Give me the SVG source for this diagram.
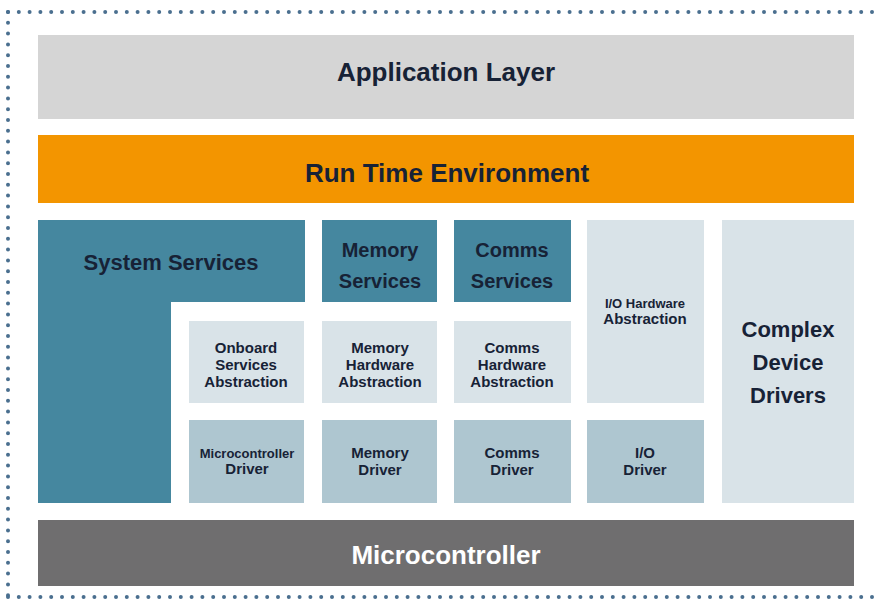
<svg xmlns="http://www.w3.org/2000/svg" width="877" height="607" viewBox="0 0 877 607">
<style>
text{font-family:"Liberation Sans",Arial,sans-serif;font-weight:bold;fill:#172236;text-anchor:middle}
.big{font-size:26px}
.mid{font-size:22px}
.svc{font-size:20px}
.sm{font-size:15px}
.xs{font-size:13px}
.teal{fill:#45879f}
.abs{fill:#d9e3e8}
.drv{fill:#aec6d0}
</style>
<rect width="877" height="607" fill="#ffffff"/>
<g id="border" fill="none" stroke="#4a6f8f" stroke-width="4" stroke-linecap="round" stroke-dasharray="0 10.8">
<path d="M8 12 H877"/>
<path d="M8 12 V597"/>
<path d="M8 597 H877"/>
</g>
<g id="app"><rect x="38" y="35" width="816" height="84" fill="#d5d5d5"/><text class="big" x="446" y="81">Application Layer</text></g>
<g id="rte"><rect x="38" y="135" width="816" height="68" fill="#f39500"/><text class="big" x="447" y="182">Run Time Environment</text></g>
<g id="sys"><path class="teal" d="M38 220 H305 V302 H171 V503 H38 Z"/><text class="mid" x="171" y="270">System Services</text></g>
<g id="memsvc"><rect class="teal" x="322" y="220" width="115" height="82"/><text class="svc" x="380" y="257">Memory</text><text class="svc" x="380" y="288">Services</text></g>
<g id="comsvc"><rect class="teal" x="454" y="220" width="117" height="82"/><text class="svc" x="512" y="257">Comms</text><text class="svc" x="512" y="288">Services</text></g>
<g id="onboard"><rect class="abs" x="189" y="321" width="115" height="82"/><text class="sm" x="246" y="353">Onboard</text><text class="sm" x="246" y="370">Services</text><text class="sm" x="246" y="387">Abstraction</text></g>
<g id="memhw"><rect class="abs" x="322" y="321" width="115" height="82"/><text class="sm" x="380" y="353">Memory</text><text class="sm" x="380" y="370">Hardware</text><text class="sm" x="380" y="387">Abstraction</text></g>
<g id="comhw"><rect class="abs" x="454" y="321" width="117" height="82"/><text class="sm" x="512" y="353">Comms</text><text class="sm" x="512" y="370">Hardware</text><text class="sm" x="512" y="387">Abstraction</text></g>
<g id="iohw"><rect class="abs" x="587" y="220" width="117" height="183"/><text class="xs" x="645" y="308">I/O Hardware</text><text class="sm" x="645" y="324">Abstraction</text></g>
<g id="mcudrv"><rect class="drv" x="189" y="420" width="115" height="83"/><text class="xs" x="247" y="458">Microcontroller</text><text class="sm" x="247" y="474">Driver</text></g>
<g id="memdrv"><rect class="drv" x="322" y="420" width="115" height="83"/><text class="sm" x="380" y="458">Memory</text><text class="sm" x="380" y="475">Driver</text></g>
<g id="comdrv"><rect class="drv" x="454" y="420" width="117" height="83"/><text class="sm" x="512" y="458">Comms</text><text class="sm" x="512" y="475">Driver</text></g>
<g id="iodrv"><rect class="drv" x="587" y="420" width="117" height="83"/><text class="sm" x="645" y="458">I/O</text><text class="sm" x="645" y="475">Driver</text></g>
<g id="cdd"><rect class="abs" x="722" y="220" width="132" height="283"/><text class="mid" x="788" y="337">Complex</text><text class="mid" x="788" y="370">Device</text><text class="mid" x="788" y="403">Drivers</text></g>
<g id="mcu"><rect x="38" y="520" width="816" height="66" fill="#6f6e6f"/><text class="big" x="446" y="564" style="fill:#ffffff">Microcontroller</text></g>
<g id="connectors"></g>
</svg>
